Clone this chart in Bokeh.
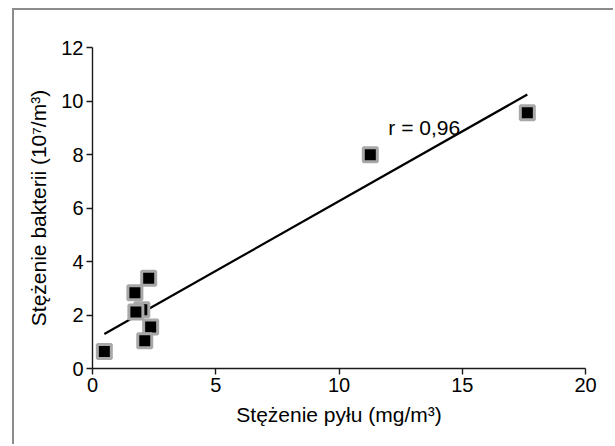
from bokeh.plotting import figure
from bokeh.models import Range1d, FixedTicker, Label
from bokeh.embed import file_html
from bokeh.resources import INLINE

# data
dust_x = [2.00, 0.48, 1.72, 1.76, 2.28, 2.36, 2.12, 11.27, 17.64]
bact_y = [2.20, 0.64, 2.83, 2.11, 3.37, 1.55, 1.04, 7.99, 9.56]
fit_x = [0.48, 17.64]
fit_y = [1.29, 10.24]
x_ticks = [0, 5, 10, 15, 20]
y_ticks = [0, 2, 4, 6, 8, 10, 12]
r_text = "r = 0,96"
x_label = "Stężenie pyłu (mg/m³)"
y_label = "Stężenie bakterii (10⁷/m³)"

FONT = "Liberation Sans"

p = figure(output_backend="svg", toolbar_location=None,
           frame_width=493, frame_height=321,
           min_border_left=78, min_border_right=28,
           min_border_top=37, min_border_bottom=76,
           x_range=Range1d(0, 20), y_range=Range1d(0, 12),
           x_axis_label=x_label, y_axis_label=y_label)
p.styles = {"border-left": "2px solid #8c8c8c", "border-top": "2px solid #8c8c8c",
            "margin-left": "12px", "margin-top": "8px"}
p.outline_line_color = None
p.grid.visible = False
p.background_fill_color = "white"
p.border_fill_color = "white"

for ax, ticks in ((p.xaxis, x_ticks), (p.yaxis, y_ticks)):
    ax.ticker = FixedTicker(ticks=ticks)
    ax.minor_tick_line_color = None
    ax.major_tick_in = 0
    ax.major_tick_out = 6
    ax.axis_line_color = "#1a1a1a"
    ax.axis_line_width = 1.4
    ax.major_tick_line_color = "#1a1a1a"
    ax.major_tick_line_width = 1.4
    ax.major_label_text_font = FONT
    ax.major_label_text_font_size = "20px"
    ax.major_label_text_color = "black"
    ax.axis_label_text_font = FONT
    ax.axis_label_text_font_size = "21px"
    ax.axis_label_text_font_style = "normal"
    ax.axis_label_text_color = "black"
    ax.axis_label_standoff = 8
    ax.major_label_standoff = 3

p.line(fit_x, fit_y, line_color="black", line_width=2.2)
p.scatter(dust_x, bact_y, marker="square", size=14,
          fill_color="black", line_color="#a8a8a8", line_width=3)

p.add_layout(Label(x=12.0, y=9.0, text=r_text, text_font=FONT,
                   text_font_size="21px", text_color="black",
                   text_baseline="alphabetic", text_align="left"))

open("out.html", "w").write(file_html(p, INLINE))
